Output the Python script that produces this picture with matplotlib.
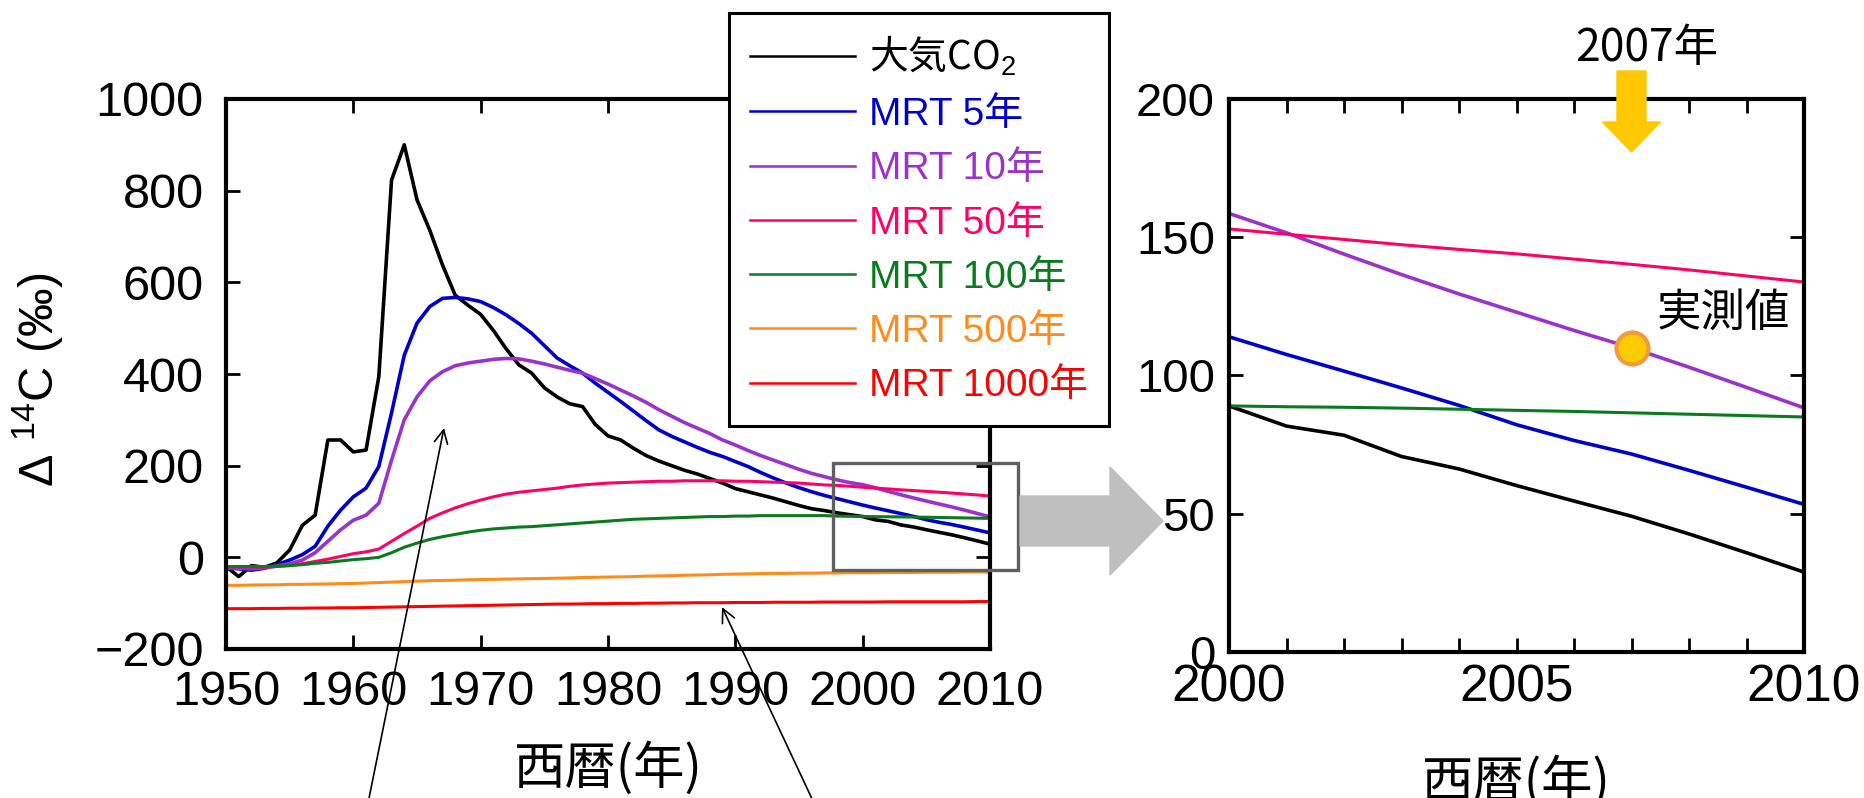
import matplotlib
matplotlib.use("Agg")
import matplotlib.pyplot as plt
from matplotlib.patches import Rectangle, FancyArrow
from matplotlib.ticker import MultipleLocator

plt.rcParams['font.family'] = ['Liberation Sans', 'Noto Sans CJK JP']
plt.rcParams['mathtext.fontset'] = 'custom'
plt.rcParams['mathtext.rm'] = 'Liberation Sans'
plt.rcParams['mathtext.it'] = 'Liberation Sans:italic'

# data (per mille, yearly 1950-2010)
years = list(range(1950, 2011))

atm_co2 = [-20, -42, -18, -22, -12, 16, 70, 92, 256, 256,
           230, 234, 394, 823, 900, 780, 714, 638, 572, 550,
           530, 495, 455, 420, 402, 370, 350, 335, 329, 290,
           265, 256, 238, 222, 210, 200, 190, 182, 172, 162,
           150, 143, 136, 129, 121, 113, 106, 102, 97, 93,
           89, 81.7, 78.4, 70.7, 66.2, 60.2, 54.6, 49.1, 42.7, 35.9, 28.9]

mrt_5 = [-23, -25, -28, -24, -16, -6, 6, 24, 68, 103,
         132, 151, 198, 315, 441, 511, 547, 565, 567, 564,
         558, 545, 529, 510, 489, 462, 435, 418, 402, 380,
         360, 340, 319, 298, 278, 264, 252, 240, 229, 220,
         209, 198, 185, 173, 162, 152, 143, 135, 128, 121,
         114, 107.6, 101.6, 95.5, 89.2, 82.2, 76.5, 71.6, 65.7, 59.6, 53.4]

mrt_10 = [-23, -24, -25, -23, -19, -14, -6, 10, 35, 60,
          81, 92, 118, 212, 300, 350, 385, 405, 418, 424,
          428, 432, 434, 433, 428, 422, 415, 408, 402, 390,
          378, 365, 352, 338, 322, 308, 294, 282, 270, 256,
          245, 233, 222, 212, 202, 192, 183, 176, 169, 163,
          158.6, 151.6, 143.9, 136.5, 129.5, 122.9, 116.3, 110, 103, 95.7, 88.3]

mrt_50 = [-20, -21, -21, -21, -20, -18, -14, -9, -4, 2,
          8, 12, 18, 35, 52, 68, 85, 97, 108, 117,
          125, 132, 138, 142, 145, 148, 151, 155, 158, 160,
          162, 163, 164, 165, 166, 166, 167, 167, 167, 167,
          166, 166, 165, 164, 163, 162, 160, 158, 157, 155,
          153, 151.1, 149.2, 147.3, 145.6, 144, 142.1, 140.2, 138.2, 136, 133.8]

mrt_100 = [-20, -20, -20, -20, -19, -18, -16, -13, -11, -8,
           -5, -3, 0, 10, 22, 31, 39, 45, 50, 55,
           59, 62, 64, 66, 67, 69, 71, 73, 75, 77,
           79, 81, 83, 84, 85, 86, 87, 88, 89, 89,
           90, 90, 91, 91, 91, 91, 91, 91, 90, 89.5,
           89, 88.7, 88.5, 88.2, 87.8, 87.4, 87, 86.5, 86, 85.5, 85]

mrt_500 = [-61, -61, -60.5, -60, -60, -59, -59, -58.5, -58, -57.5,
           -57, -56, -55, -54, -53, -52, -51, -50.5, -50, -49,
           -48.5, -48, -47.5, -47, -46.5, -46, -45.5, -45, -44, -43.5,
           -43, -42.5, -42, -41, -40.5, -40, -39, -38.5, -38, -37,
           -36.5, -36, -35.5, -35, -35, -34.5, -34.5, -34, -34, -33.5,
           -33.5, -33.5, -33, -33, -33, -32.5, -32.5, -32.5, -32, -32, -32]

mrt_1000 = [-112, -112, -112, -111.5, -111.5, -111, -111, -110.5, -110.5, -110,
            -110, -109.5, -109, -108.5, -108, -107.5, -107, -106.5, -106, -105.5,
            -105, -104.5, -104, -103.5, -103, -102.5, -102, -102, -101.5, -101,
            -101, -100.5, -100.5, -100, -100, -99.5, -99.5, -99, -99, -99,
            -98.5, -98.5, -98.5, -98, -98, -98, -98, -97.5, -97.5, -97.5,
            -97.5, -97.5, -97, -97, -97, -97, -97, -97, -97, -96.5, -96.5]

series = [
    ('大気CO$_2$', atm_co2, 'black', 2.6),
    ('MRT 5年', mrt_5, '#0000CC', 2.6),
    ('MRT 10年', mrt_10, '#9933CC', 2.6),
    ('MRT 50年', mrt_50, '#FF0066', 2.2),
    ('MRT 100年', mrt_100, '#0A7A1E', 2.2),
    ('MRT 500年', mrt_500, '#FF8C1A', 2.2),
    ('MRT 1000年', mrt_1000, '#FF0000', 2.2),
]

measured_year = [2007]
measured_value = [110]

# zoomed region marked on the left panel (x0, y0, x1, y1)
zoom_box = (1997.7, -28, 2012.2, 206)

W, H = 1865, 798
fig = plt.figure(figsize=(W / 100, H / 100), dpi=100)
ax1 = fig.add_axes([226 / W, 1 - 649 / H, 764 / W, 550 / H])
ax2 = fig.add_axes([1229 / W, 1 - 652 / H, 575 / W, 553 / H])

for label, vals, color, lw in series:
    ax1.plot(years, vals, color=color, lw=lw, label=label)
    ax2.plot(years, vals, color=color, lw=lw)

# left panel
ax1.set_xlim(1950, 2010)
ax1.set_ylim(-200, 1000)
ax1.set_xticks(range(1950, 2011, 10))
ax1.set_yticks(range(-200, 1001, 200))
ax1.tick_params(direction='in', length=10, width=2, top=True, right=True,
                labelsize=35)
ax1.tick_params(axis='x', pad=15)
ax1.tick_params(axis='y', pad=16)
for s in ax1.spines.values():
    s.set_linewidth(3)
ax1.set_xlabel('西暦(年)', fontsize=37, family='Noto Sans CJK JP', va='center')
ax1.xaxis.set_label_coords(0.5, -0.218)
ax1.set_ylabel('Δ $^{14}$C (‰)', fontsize=35, va='center')
ax1.yaxis.set_label_coords(-0.245, 0.49)

leg = ax1.legend(loc='upper left', bbox_to_anchor=(729 / W, 1 - 13 / H),
                 bbox_transform=fig.transFigure, fontsize=28, frameon=True,
                 fancybox=False, edgecolor='black', framealpha=1,
                 borderaxespad=0, handlelength=2.7, handletextpad=0.35,
                 labelspacing=0.47, borderpad=0.55, labelcolor='linecolor')
leg.get_frame().set_linewidth(2.2)
leg.get_texts()[0].set_fontfamily('Noto Sans CJK JP')
for h in leg.get_lines():
    h.set_linewidth(1.8)

x0, y0, x1, y1 = zoom_box
ax1.add_patch(Rectangle((x0, y0), x1 - x0, y1 - y0, fill=False,
                        edgecolor='#5f5f5f', lw=2.4, clip_on=False, zorder=6))

# right panel
ax2.set_xlim(2000, 2010)
ax2.set_ylim(0, 200)
ax2.xaxis.set_major_locator(MultipleLocator(5))
ax2.xaxis.set_minor_locator(MultipleLocator(1))
ax2.yaxis.set_major_locator(MultipleLocator(50))
ax2.tick_params(which='both', direction='in', length=10, width=2,
                top=True, right=True, labelsize=34)
ax2.tick_params(axis='x', pad=8, labelsize=37)
ax2.tick_params(axis='y', pad=10)
for s in ax2.spines.values():
    s.set_linewidth(3)
ax2.set_xlabel('西暦(年)', fontsize=37, family='Noto Sans CJK JP', va='center')
ax2.xaxis.set_label_coords(0.5, -0.237)

ax2.plot(measured_year, measured_value, 'o', ms=23, mfc='#FFCC00',
         mec='#F39A3C', mew=3, zorder=6)
ax2.text(2008.6, 122.6, '実測値', fontsize=32, ha='center', va='center',
         family='Noto Sans CJK JP')
ax2.text(measured_year[0] + 0.27, 1.092, '2007年', fontsize=32,
         ha='center', va='center', family='Noto Sans CJK JP',
         transform=ax2.get_xaxis_transform())

# yellow arrow above the measured year
xa = ax2.transData.transform((measured_year[0], 0))[0] / fig.dpi
fig.add_artist(FancyArrow(xa, 7.27, 0, -0.81, width=0.29, head_width=0.58,
                          head_length=0.30, length_includes_head=True,
                          transform=fig.dpi_scale_trans, color='#FFC800'))

# grey arrow between the panels
fig.add_artist(FancyArrow(10.20, 2.77, 1.43, 0, width=0.50, head_width=1.08,
                          head_length=0.53, length_includes_head=True,
                          transform=fig.dpi_scale_trans, color='#BFBFBF'))

# thin pointers from below
for tip, tail in [((444, 370), (365, -20)), ((722, 191), (821, -20))]:
    ax1.annotate('', xy=tip, xycoords='figure pixels', xytext=tail,
                 textcoords='figure pixels', annotation_clip=False,
                 arrowprops=dict(arrowstyle='->', lw=1.2, color='black',
                                 shrinkA=0, shrinkB=0, mutation_scale=24))

fig.savefig('out.png', dpi=100)
